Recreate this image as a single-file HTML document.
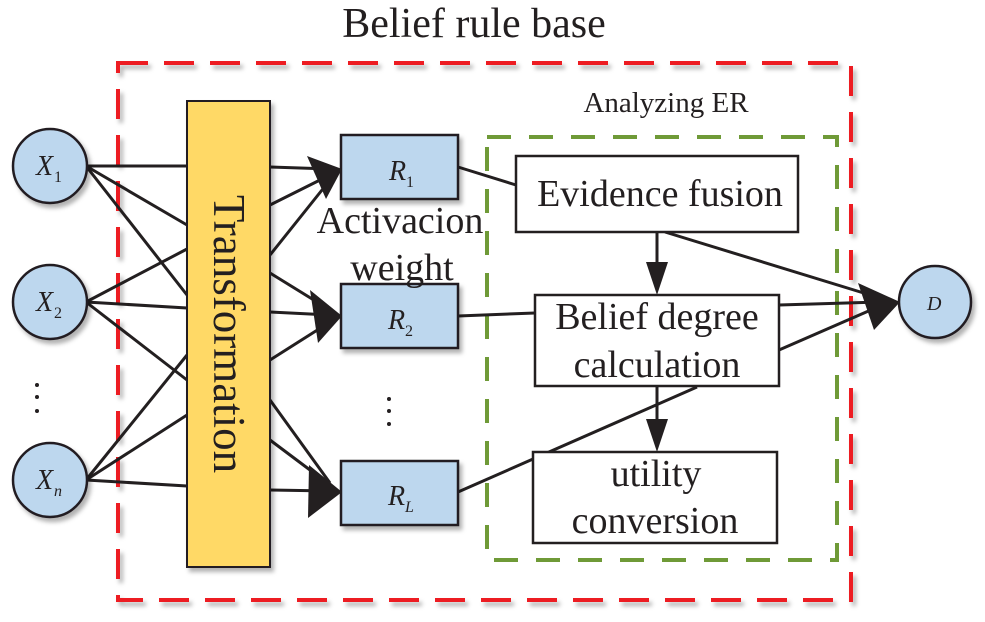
<!DOCTYPE html>
<html><head><meta charset="utf-8"><style>
html,body{margin:0;padding:0;background:#fff;}
svg{display:block;font-family:"Liberation Serif",serif;}
</style></head><body>
<svg width="985" height="622" viewBox="0 0 985 622" xmlns="http://www.w3.org/2000/svg">
<defs>
<filter id="sh" x="-20%" y="-20%" width="150%" height="150%"><feDropShadow dx="3" dy="4" stdDeviation="2" flood-color="#000" flood-opacity="0.3"/></filter>
</defs>
<text x="474" y="37" font-size="42" text-anchor="middle" fill="#231f20">Belief rule base</text>
<rect x="118" y="63" width="733" height="537" fill="none" stroke="#ed1c24" stroke-width="4" stroke-dasharray="30,16" filter="url(#sh)"/>
<text x="666" y="112" font-size="29" text-anchor="middle" fill="#231f20">Analyzing ER</text>
<rect x="487" y="137" width="350" height="423" fill="none" stroke="#6f9a37" stroke-width="4" stroke-dasharray="24,18"/>

<g stroke="#231f20" stroke-width="3" fill="none">
<line x1="86" y1="166" x2="187" y2="166"/>
<line x1="86" y1="166" x2="187" y2="225"/>
<line x1="86" y1="166" x2="187" y2="295"/>
<line x1="86" y1="302" x2="187" y2="249"/>
<line x1="86" y1="302" x2="187" y2="308"/>
<line x1="86" y1="302" x2="187" y2="380"/>
<line x1="86" y1="480" x2="187" y2="355"/>
<line x1="86" y1="480" x2="187" y2="415"/>
<line x1="86" y1="480" x2="187" y2="486"/>
<line x1="270" y1="167" x2="330" y2="169"/>
<line x1="270" y1="205" x2="330" y2="175"/>
<line x1="270" y1="255" x2="330" y2="180"/>
<line x1="270" y1="273" x2="330" y2="310"/>
<line x1="270" y1="312" x2="330" y2="315"/>
<line x1="270" y1="360" x2="330" y2="322"/>
<line x1="270" y1="400" x2="330" y2="483"/>
<line x1="270" y1="440" x2="330" y2="485"/>
<line x1="270" y1="490" x2="330" y2="491"/>
<line x1="458" y1="167" x2="516" y2="185"/>
<line x1="458" y1="316" x2="535" y2="313"/>
<line x1="458" y1="492" x2="697" y2="387"/>
<line x1="665" y1="232" x2="880" y2="298"/>
<line x1="779" y1="305" x2="880" y2="302"/>
<line x1="779" y1="350" x2="880" y2="306"/>
<line x1="657" y1="232" x2="657" y2="275"/>
<line x1="657" y1="387" x2="657" y2="432"/>
</g>
<g fill="#bdd7ee" stroke="#231f20" stroke-width="2.5" filter="url(#sh)">
<circle cx="50" cy="166" r="37"/>
<circle cx="50" cy="302" r="37"/>
<circle cx="50" cy="480" r="37"/>
<circle cx="935" cy="302" r="36"/>
</g>
<g font-style="italic" font-size="28" fill="#231f20">
<text x="36" y="175">X</text><text x="54" y="182" font-size="16" font-style="normal">1</text>
<text x="36" y="311">X</text><text x="54" y="318" font-size="16" font-style="normal">2</text>
<text x="36" y="489">X</text><text x="54" y="496" font-size="16">n</text>
<text x="927" y="310" font-size="20">D</text>
</g>
<g fill="#231f20">
<circle cx="37" cy="385" r="2"/><circle cx="37" cy="397" r="2"/><circle cx="37" cy="411" r="2"/>
<circle cx="389" cy="399" r="2"/><circle cx="389" cy="411" r="2"/><circle cx="389" cy="424" r="2"/>
</g>
<rect x="187" y="101" width="83" height="466" fill="#ffd966" stroke="#231f20" stroke-width="2" filter="url(#sh)"/>
<text x="0" y="0" font-size="45" fill="#231f20" transform="translate(214,334) rotate(90)" text-anchor="middle">Transformation</text>
<g fill="#bdd7ee" stroke="#231f20" stroke-width="2.5">
<rect x="341" y="135" width="117" height="64" filter="url(#sh)"/>
<rect x="341" y="284" width="117" height="64" filter="url(#sh)"/>
<rect x="341" y="461" width="117" height="64" filter="url(#sh)"/>
</g>
<g fill="#231f20" font-size="28">
<text x="389" y="180" font-style="italic">R</text><text x="406" y="187" font-size="16">1</text>
<text x="388" y="329" font-style="italic">R</text><text x="405" y="336" font-size="16">2</text>
<text x="388" y="505" font-style="italic">R</text><text x="405" y="512" font-size="16" font-style="italic">L</text>
</g>
<text x="400" y="233" font-size="38" text-anchor="middle" fill="#231f20">Activacion</text>
<text x="402" y="280" font-size="38" text-anchor="middle" fill="#231f20">weight</text>
<g fill="#231f20">
<polygon points="342,169 307,156 326,199"/>
<polygon points="342,316 310,290 318,343"/>
<polygon points="342,492 309,465 308,518"/>
<polygon points="900,302 858,283 874,330"/>
<polygon points="657,295 646,262 668,262"/>
<polygon points="657,452 646,419 668,419"/>
</g>
<g fill="#fff" stroke="#231f20" stroke-width="2.5">
<rect x="516" y="156" width="282" height="76"/>
<rect x="535" y="295" width="244" height="91"/>
<rect x="533" y="452" width="244" height="91"/>
</g>
<g font-size="38" fill="#231f20" text-anchor="middle">
<text x="660" y="206">Evidence fusion</text>
<text x="657" y="329">Belief degree</text>
<text x="657" y="377">calculation</text>
<text x="656" y="486">utility</text>
<text x="655" y="533">conversion</text>
</g>
</svg>
</body></html>
